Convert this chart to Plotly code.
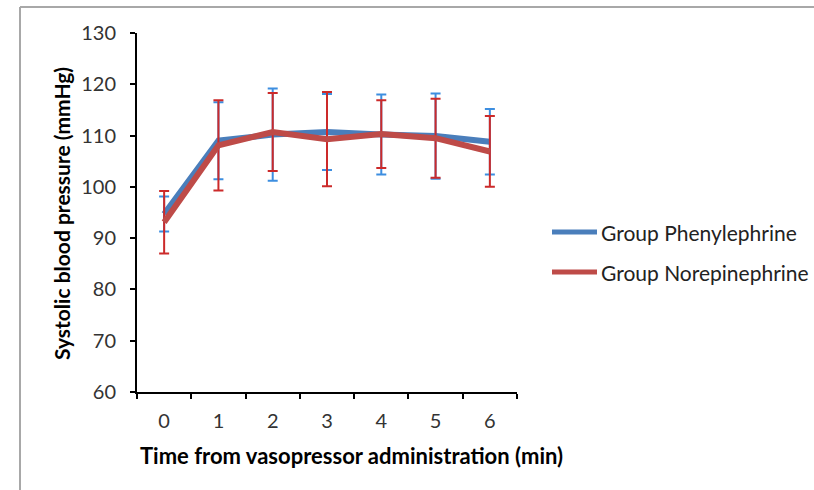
import plotly.graph_objects as go

times = ["0", "1", "2", "3", "4", "5", "6"]
phen_mean = [94.7, 109.0, 110.2, 110.7, 110.2, 109.9, 108.8]
phen_sd = [3.4, 7.5, 9.0, 7.4, 7.8, 8.3, 6.4]
nor_mean = [93.1, 108.1, 110.7, 109.3, 110.3, 109.5, 106.9]
nor_sd = [6.1, 8.8, 7.6, 9.2, 6.6, 7.7, 6.9]
series_names = ["Group Phenylephrine", "Group Norepinephrine"]
line_colors = ["#4a7ebb", "#be4b48"]
err_colors = ["#3d8ee0", "#cc2a2a"]

FONT = "Lato"

fig = go.Figure()
for name, m, sd, lc, ec in zip(series_names, [phen_mean, nor_mean], [phen_sd, nor_sd], line_colors, err_colors):
    fig.add_trace(go.Scatter(
        x=times, y=m, mode="lines", name=name, showlegend=False,
        line=dict(color=lc, width=6),
        error_y=dict(type="data", array=sd, visible=True, color=ec, thickness=2, width=5),
    ))

W, H = 814, 490
L, R, T, B = 137, 297, 33, 98
pw, ph = W - L - R, H - T - B
def px(x):
    return (x - L) / pw
def py(y):
    return (H - B - y) / ph

# outer border (top and left)
fig.add_shape(type="line", xref="paper", yref="paper", x0=px(20), x1=px(814), y0=py(7), y1=py(7),
              line=dict(color="#a8a8a8", width=2))
fig.add_shape(type="line", xref="paper", yref="paper", x0=px(20), x1=px(20), y0=py(7), y1=py(490),
              line=dict(color="#a8a8a8", width=2))

# legend (drawn manually to match long legend keys)
for i, (name, lc) in enumerate(zip(series_names, line_colors)):
    yy = 232 + 40 * i
    fig.add_shape(type="line", xref="paper", yref="paper", x0=px(552), x1=px(597), y0=py(yy), y1=py(yy),
                  line=dict(color=lc, width=5))
    fig.add_annotation(text=name, xref="paper", yref="paper", x=px(599), y=py(yy), showarrow=False,
                       xanchor="left", yanchor="middle", font=dict(family=FONT, size=21, color="#222"))

fig.add_annotation(text="<b>Time from vasopressor administration (min)</b>", xref="paper", yref="paper",
                   x=px(351), y=py(455), showarrow=False, font=dict(family=FONT, size=22, color="#000"),
                   xanchor="center", yanchor="middle")
fig.add_annotation(text="<b>Systolic blood pressure (mmHg)</b>", xref="paper", yref="paper",
                   x=px(62), y=py(214), showarrow=False, textangle=-90,
                   font=dict(family=FONT, size=21, color="#000"),
                   xanchor="center", yanchor="middle")

fig.update_layout(
    width=W, height=H,
    margin=dict(l=L, r=R, t=T, b=B),
    paper_bgcolor="white", plot_bgcolor="white",
    font=dict(family=FONT, color="#000"),
    showlegend=False,
    xaxis=dict(type="category", showline=True, linecolor="black", linewidth=2,
               ticks="outside", tickson="boundaries", ticklen=5, tickwidth=2, tickcolor="black",
               ticklabelstandoff=10,
               showgrid=False, zeroline=False, tickfont=dict(family=FONT, size=20, color="#333"),
               range=[-0.5, 6.5]),
    yaxis=dict(range=[60, 130], dtick=10, showline=True, linecolor="black", linewidth=2,
               ticks="outside", ticklen=5, tickwidth=2, tickcolor="black",
               ticklabelstandoff=10,
               showgrid=False, zeroline=False, tickfont=dict(family=FONT, size=20, color="#333")),
)

fig.write_html("out.html")
